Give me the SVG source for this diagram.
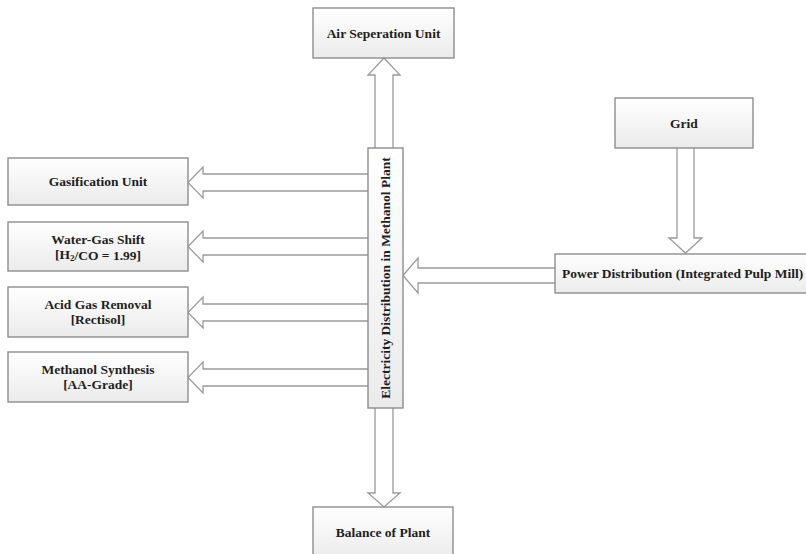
<svg xmlns="http://www.w3.org/2000/svg" width="806" height="554" viewBox="0 0 806 554">
  <defs>
    <linearGradient id="boxFill" x1="0" y1="0" x2="0" y2="1">
      <stop offset="0" stop-color="#ffffff"/>
      <stop offset="1" stop-color="#ebebeb"/>
    </linearGradient>
    <style>
      .box { fill: url(#boxFill); stroke: #8e8e8e; stroke-width: 1.4; }
      .arrow { fill: #ffffff; stroke: #9a9a9a; stroke-width: 1.3; stroke-linejoin: miter; }
      .label { font-family: "Liberation Serif", "Times New Roman", serif; font-weight: bold; font-size: 13.5px; fill: #1e1e1e; text-anchor: middle; dominant-baseline: central; }
    </style>
  </defs>
  <rect width="806" height="554" fill="#ffffff"/>

  <!-- hollow block arrows -->
  <g id="connectors">
    <!-- central column to Air Separation Unit -->
    <path class="arrow" d="M375,148 V75 H368 L384,58 L400,75 H393 V148"/>
    <!-- central column to Balance of Plant -->
    <path class="arrow" d="M375,408 V493 H368 L384,507 L400,493 H393 V408"/>
    <!-- central column to the process units -->
    <path class="arrow" d="M368,174 H203 V167 L188,182.5 L203,198 V191 H368"/>
    <path class="arrow" d="M368,238 H203 V231 L188,246.5 L203,262 V255 H368"/>
    <path class="arrow" d="M368,304 H203 V297 L188,312.5 L203,328 V321 H368"/>
    <path class="arrow" d="M368,369 H203 V362 L188,377.5 L203,393 V386 H368"/>
    <!-- pulp mill supply into the central column -->
    <path class="arrow" d="M555,268 H418 V258 L403,275.5 L418,293 V283 H555"/>
    <!-- grid to pulp mill distribution -->
    <path class="arrow" d="M677,148 V238 H669 L685.5,253 L702,238 H694 V148"/>
  </g>

  <g id="air-separation-unit">
    <rect class="box" x="313" y="8" width="141" height="50"/>
    <text class="label" x="383.5" y="33">Air Seperation Unit</text>
  </g>

  <g id="electricity-distribution">
    <rect class="box" x="368" y="148" width="35" height="260"/>
    <text class="label" transform="translate(385.5 278) rotate(-90)">Electricity Distribution in Methanol Plant</text>
  </g>

  <g id="gasification-unit">
    <rect class="box" x="8" y="158" width="180" height="47"/>
    <text class="label" x="98" y="181.5">Gasification Unit</text>
  </g>

  <g id="water-gas-shift">
    <rect class="box" x="8" y="222" width="180" height="49"/>
    <text class="label" x="98" y="239">Water-Gas Shift</text>
    <text class="label" x="98" y="254.5">[H<tspan font-size="9px" dy="3">2</tspan><tspan dy="-3">/CO = 1.99]</tspan></text>
  </g>

  <g id="acid-gas-removal">
    <rect class="box" x="8" y="287" width="180" height="50"/>
    <text class="label" x="98" y="304">Acid Gas Removal</text>
    <text class="label" x="98" y="319.5">[Rectisol]</text>
  </g>

  <g id="methanol-synthesis">
    <rect class="box" x="8" y="352" width="180" height="50"/>
    <text class="label" x="98" y="369">Methanol Synthesis</text>
    <text class="label" x="98" y="384.5">[AA-Grade]</text>
  </g>

  <g id="grid">
    <rect class="box" x="615" y="98" width="138" height="50"/>
    <text class="label" x="684" y="123">Grid</text>
  </g>

  <g id="power-distribution">
    <rect class="box" x="555" y="254" width="280" height="39"/>
    <text class="label" x="562" y="273.5" style="text-anchor:start">Power Distribution (Integrated Pulp Mill)</text>
  </g>

  <g id="balance-of-plant">
    <rect class="box" x="313" y="507" width="140" height="52"/>
    <text class="label" x="383" y="532">Balance of Plant</text>
  </g>
</svg>
